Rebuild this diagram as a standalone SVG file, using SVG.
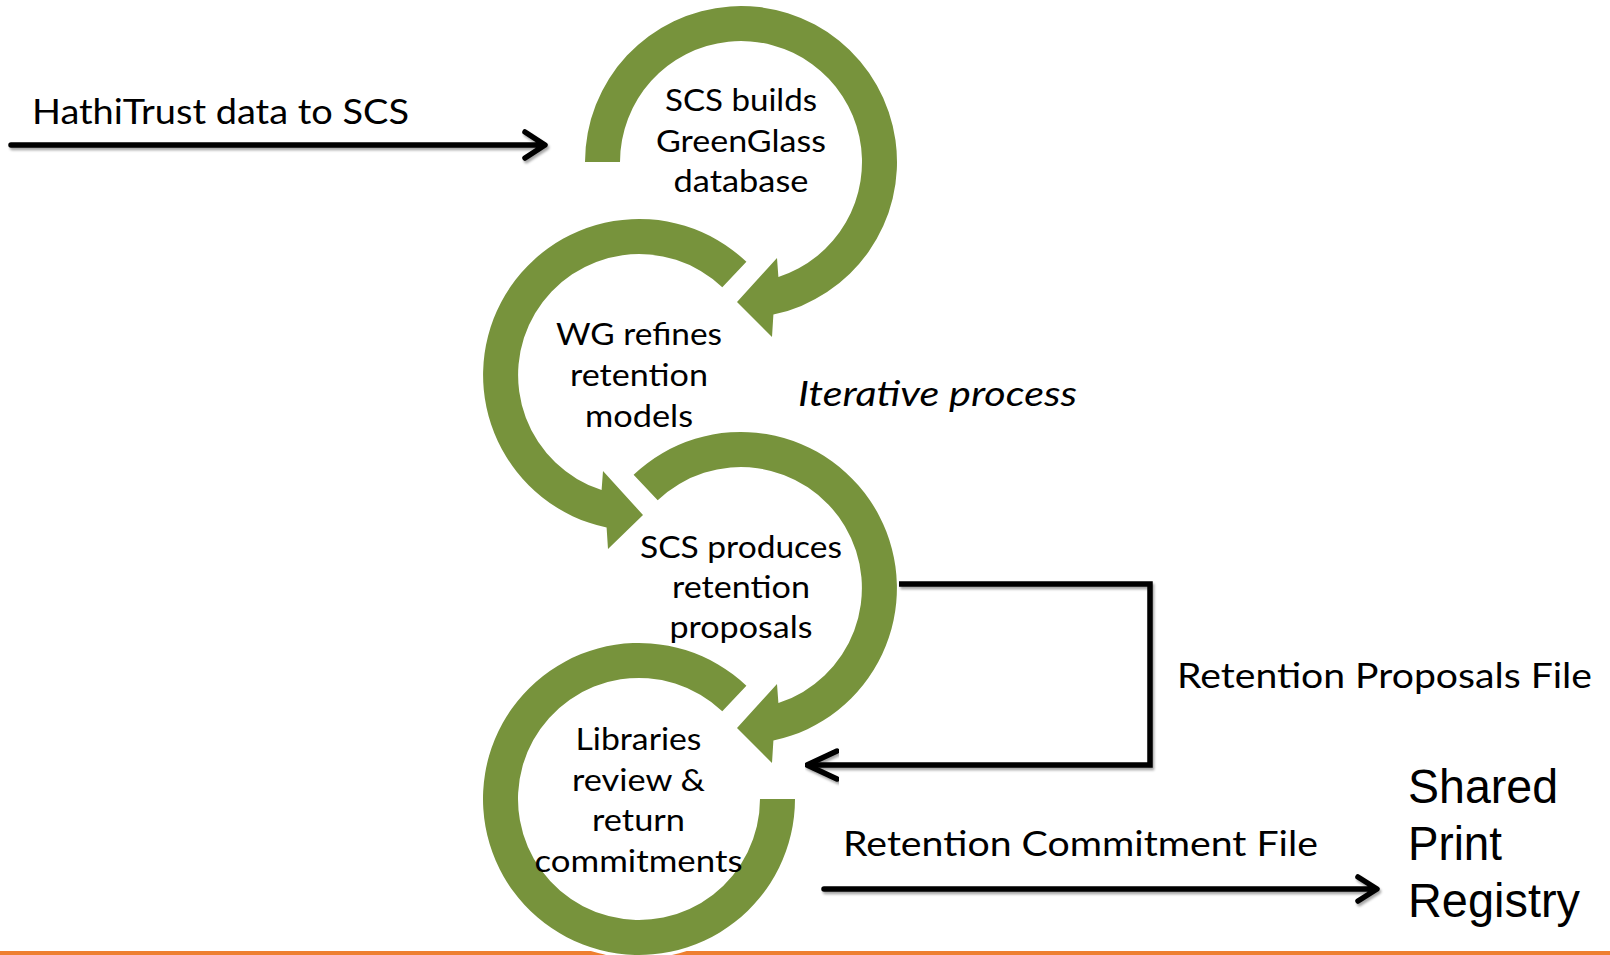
<svg xmlns="http://www.w3.org/2000/svg" width="1610" height="955" viewBox="0 0 1610 955">
<defs>
<style>
.ring{fill:#77933C;stroke:#fff;stroke-width:7;paint-order:stroke;stroke-linejoin:miter}
.t{font-family:Lato,"Open Sans","Liberation Sans",sans-serif;font-size:31px;fill:#000;text-anchor:middle}
.o{font-family:Lato,"Open Sans","Liberation Sans",sans-serif;font-size:35px;fill:#000}
.a{font-family:"Liberation Sans",Arial,sans-serif;font-size:48px;fill:#000}
.ln{fill:none;stroke:#000;stroke-width:5.5;stroke-linecap:round;stroke-linejoin:round;filter:url(#sh)}
.sq{stroke-linecap:butt;stroke-linejoin:miter}
</style>
<filter id="sh" x="-5%" y="-50%" width="110%" height="200%">
<feDropShadow dx="1.5" dy="2.5" stdDeviation="1.2" flood-color="#000" flood-opacity="0.35"/>
</filter>
</defs>
<rect x="0" y="0" width="1610" height="955" fill="#fff"/>
<rect x="0" y="951" width="1610" height="4" fill="#EE7F30"/>

<g id="node-build">
<path class="ring" d="M 585 162 A 156 156 0 1 1 773.4 314.6 L 772 337 L 737 302 L 777 258 L 778.4 277.1 A 121 121 0 1 0 620 162 Z"/>
<text class="t" x="741" y="111" textLength="152" lengthAdjust="spacingAndGlyphs">SCS builds</text>
<text class="t" x="741" y="151.5" textLength="170" lengthAdjust="spacingAndGlyphs">GreenGlass</text>
<text class="t" x="741" y="192" textLength="135" lengthAdjust="spacingAndGlyphs">database</text>
</g>

<g id="node-refine">
<path class="ring" d="M 746.4 261.8 A 156 156 0 1 0 606.6 527.6 L 608 549 L 643 515 L 603 471 L 601.6 490.1 A 121 121 0 1 1 722.3 287.2 Z"/>
<text class="t" x="639" y="345" textLength="166" lengthAdjust="spacingAndGlyphs">WG refines</text>
<text class="t" x="639" y="386" textLength="138" lengthAdjust="spacingAndGlyphs">retention</text>
<text class="t" x="639" y="427" textLength="108" lengthAdjust="spacingAndGlyphs">models</text>
</g>

<g id="node-produce">
<path class="ring" d="M 633.6 474.8 A 156 156 0 1 1 773.4 740.6 L 772 763 L 737 728 L 777 684 L 778.4 703.1 A 121 121 0 1 0 657.7 500.2 Z"/>
<text class="t" x="741" y="557.5" textLength="202" lengthAdjust="spacingAndGlyphs">SCS produces</text>
<text class="t" x="741" y="598" textLength="138" lengthAdjust="spacingAndGlyphs">retention</text>
<text class="t" x="741" y="638" textLength="143" lengthAdjust="spacingAndGlyphs">proposals</text>
</g>

<g id="node-libraries">
<path class="ring" d="M 795 799 A 156 156 0 1 1 746.4 685.8 L 722.3 711.2 A 121 121 0 1 0 760 799 Z"/>
<text class="t" x="638.5" y="749.5" textLength="126" lengthAdjust="spacingAndGlyphs">Libraries</text>
<text class="t" x="638.5" y="790.5" textLength="133" lengthAdjust="spacingAndGlyphs">review &amp;</text>
<text class="t" x="638.5" y="831" textLength="93" lengthAdjust="spacingAndGlyphs">return</text>
<text class="t" x="638.5" y="871.5" textLength="208" lengthAdjust="spacingAndGlyphs">commitments</text>
</g>

<g id="connectors">
<path class="ln" d="M 11 145 H 543 M 525 132 L 545 145 L 525 158"/>
<path class="ln sq" d="M 899 584 H 1150 V 765 H 810"/>
<path class="ln" d="M 837 751 L 807 765 L 837 779"/>
<path class="ln" d="M 824 889 H 1375 M 1358 877 L 1377 889 L 1358 901"/>
</g>

<g id="labels">
<text class="o" x="32" y="124" textLength="377" lengthAdjust="spacingAndGlyphs">HathiTrust data to SCS</text>
<text class="o" x="798" y="406" font-style="italic" textLength="279" lengthAdjust="spacingAndGlyphs">Iterative process</text>
<text class="o" x="1177" y="688" textLength="415" lengthAdjust="spacingAndGlyphs">Retention Proposals File</text>
<text class="o" x="843" y="856" textLength="475" lengthAdjust="spacingAndGlyphs">Retention Commitment File</text>
<text class="a" x="1408" y="803" textLength="150" lengthAdjust="spacingAndGlyphs">Shared</text>
<text class="a" x="1408" y="860" textLength="94" lengthAdjust="spacingAndGlyphs">Print</text>
<text class="a" x="1408" y="917" textLength="172" lengthAdjust="spacingAndGlyphs">Registry</text>
</g>
</svg>
